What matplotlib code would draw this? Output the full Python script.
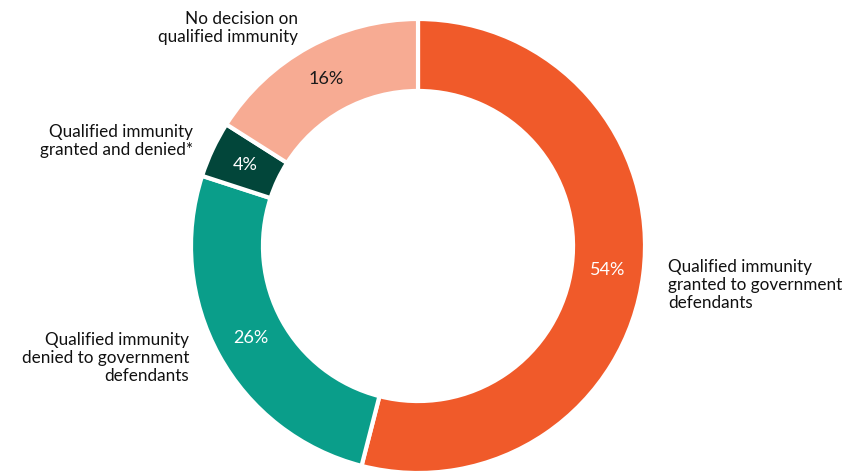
import matplotlib
matplotlib.use("Agg")
import matplotlib.pyplot as plt

plt.rcParams['font.family'] = ['Lato', 'DejaVu Sans']

# Outcomes of qualified immunity decisions
categories = [
    "Qualified immunity\ngranted to government\ndefendants",
    "Qualified immunity\ndenied to government\ndefendants",
    "Qualified immunity\ngranted and denied*",
    "No decision on\nqualified immunity",
]
shares = [54, 26, 4, 16]
colors = ["#F05A2A", "#0A9E8A", "#02463A", "#F7AB93"]
pct_colors = ["white", "white", "white", "#1a1a1a"]

W, H = 852, 473
cx, cy, R = 418, 246, 227  # ring centre and outer radius, pixels

fig = plt.figure(figsize=(W / 100, H / 100), dpi=100)
ax = fig.add_axes([0, 0, 1, 1])

wedges, _, autotexts = ax.pie(
    shares,
    colors=colors,
    startangle=90,
    counterclock=False,
    radius=1,
    autopct=lambda p: f"{p:.0f}%",
    pctdistance=0.84,
    wedgeprops=dict(width=0.317, edgecolor="white", linewidth=3),
    textprops=dict(fontsize=13),
)
for t, c in zip(autotexts, pct_colors):
    t.set_color(c)

ax.set_xlim(-cx / R, (W - cx) / R)
ax.set_ylim(-(H - cy) / R, cy / R)
ax.set_aspect("equal")
ax.axis("off")


def px(x, y):
    return ((x - cx) / R, (cy - y) / R)


label_pos = [
    (px(668, 285), "left"),
    (px(189, 358), "right"),
    (px(193, 141), "right"),
    (px(298, 28), "right"),
]
for text, ((x, y), ha) in zip(categories, label_pos):
    ax.text(x, y, text, ha=ha, va="center", multialignment=ha,
            fontsize=12.3, color="#111111", linespacing=1.15)

fig.savefig("out.png", dpi=100)
